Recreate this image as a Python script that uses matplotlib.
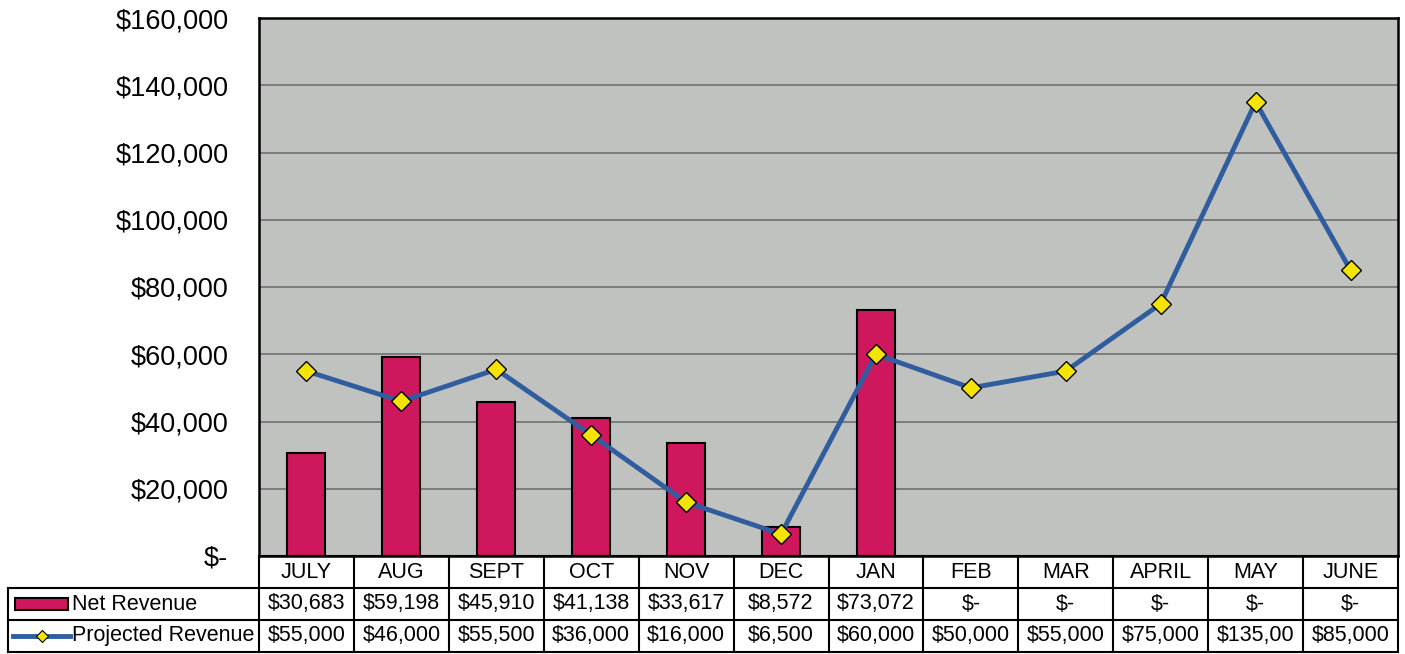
import matplotlib
matplotlib.use("Agg")
import matplotlib.pyplot as plt
from matplotlib.patches import Rectangle
from matplotlib.lines import Line2D

plt.rcParams['font.family'] = ['Liberation Sans', 'DejaVu Sans']

months = ["JULY", "AUG", "SEPT", "OCT", "NOV", "DEC", "JAN", "FEB", "MAR", "APRIL", "MAY", "JUNE"]
net_revenue = [30683, 59198, 45910, 41138, 33617, 8572, 73072, 0, 0, 0, 0, 0]
projected_revenue = [55000, 46000, 55500, 36000, 16000, 6500, 60000, 50000, 55000, 75000, 135000, 85000]
y_ticks = [0, 20000, 40000, 60000, 80000, 100000, 120000, 140000, 160000]

BAR_COLOR = "#cf175e"
LINE_COLOR = "#2f5d9e"
MARKER_COLOR = "#f5e400"
BG = "#c0c2c0"


def money(v):
    # excel clips text that doesn't fit the cell, e.g. "$135,00"
    return f"${v:,}"[:7] if v else "$-"


fig = plt.figure(figsize=(14.05, 6.54), dpi=100)
left, width = 259 / 1405, (1398 - 259) / 1405
ax = fig.add_axes([left, 1 - 556 / 654, width, (556 - 18) / 654])
tab = fig.add_axes([left, 1 - 652 / 654, width, 96 / 654])

n = len(months)
xs = list(range(n))

# chart
ax.set_facecolor(BG)
for x, v in zip(xs, net_revenue):
    if v:
        ax.bar(x, v, width=0.4, color=BAR_COLOR, edgecolor="black", linewidth=1.5, zorder=2)
ax.plot(xs, projected_revenue, color=LINE_COLOR, lw=3.5, marker="D", ms=10.5,
        mfc=MARKER_COLOR, mec="black", mew=1, zorder=3)
ax.set_xlim(-0.5, n - 0.5)
ax.set_ylim(0, 160000)
ax.set_yticks(y_ticks)
ax.set_yticklabels([f"${v:,}" if v else "$-" for v in y_ticks], fontsize=19.5)
ax.tick_params(axis="y", length=0, pad=22)
ax.set_xticks([])
ax.yaxis.grid(True, color="#707070", lw=1.2, zorder=1)
ax.set_axisbelow(True)
for s in ax.spines.values():
    s.set_linewidth(1.8)

# data table
tab.set_xlim(-0.5, n - 0.5)
tab.set_ylim(0, 3)
tab.axis("off")
colw = (1398 - 259) / n
lab_left = -0.5 - 251 / colw
kw = dict(color="black", lw=1.5, clip_on=False)

tab.plot([-0.5, n - 0.5], [3, 3], **kw)
tab.plot([lab_left, n - 0.5], [2, 2], **kw)
tab.plot([lab_left, n - 0.5], [1, 1], **kw)
tab.plot([lab_left, n - 0.5], [0, 0], **kw)
tab.plot([lab_left, lab_left], [0, 2], **kw)
for i in range(n + 1):
    tab.plot([i - 0.5, i - 0.5], [0, 3], **kw)

for i in xs:
    tab.text(i, 2.5, months[i], ha="center", va="center", fontsize=15.5)
    tab.text(i, 1.5, money(net_revenue[i]), ha="center", va="center", fontsize=15.5)
    tab.text(i, 0.5, money(projected_revenue[i]), ha="center", va="center", fontsize=15.5)

# legend keys in the row headers
k0 = lab_left + 7 / colw
k1 = lab_left + 60 / colw
tab.add_patch(Rectangle((k0, 1.32), k1 - k0, 0.36, facecolor=BAR_COLOR,
                        edgecolor="black", lw=1.5, clip_on=False))
tab.add_line(Line2D([k0 - 2 / colw, k1 + 2 / colw], [0.5, 0.5], color=LINE_COLOR, lw=3.5,
                    clip_on=False))
tab.add_line(Line2D([(k0 + k1) / 2], [0.5], marker="D", ms=6, mfc=MARKER_COLOR,
                    mec="black", mew=0.8, clip_on=False))
tab.text(k1 + 4 / colw, 1.5, "Net Revenue", ha="left", va="center", fontsize=15.5)
tab.text(k1 + 4 / colw, 0.5, "Projected Revenue", ha="left", va="center", fontsize=15.5)

fig.savefig("out.png", dpi=100)
